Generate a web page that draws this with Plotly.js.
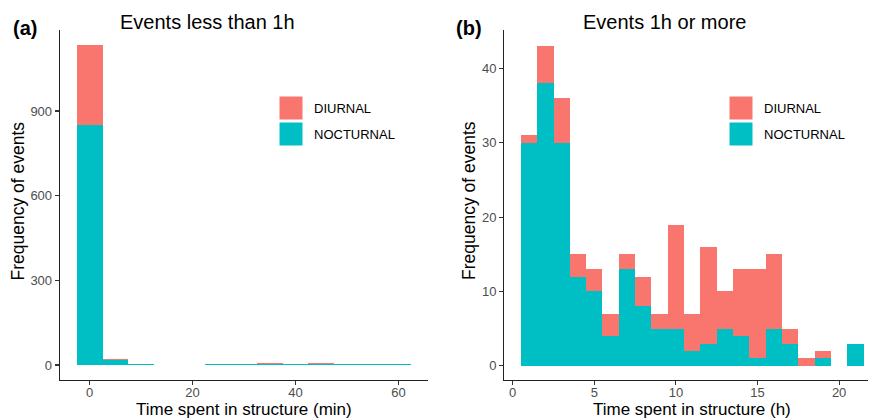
<!DOCTYPE html>
<html>
<head>
<meta charset="utf-8">
<script src="https://cdn.plot.ly/plotly-3.0.1.min.js"></script>
<style>html,body{margin:0;padding:0;background:#fff;}#chart{width:869px;height:420px;}</style>
</head>
<body>
<div id="chart"></div>
<script>
// Panel (a): events less than 1h, bins of 5 min
const minutesBins = [0, 5, 10, 15, 20, 25, 30, 35, 40, 45, 50, 55, 60];
const minutesNocturnal = [850, 17, 3, 1, 1, 2, 3, 5, 3, 4, 5, 2, 2];
const minutesDiurnal   = [285, 5, 2, 0, 0, 0, 2, 1, 1, 4, 0, 0, 0];

// Panel (b): events 1h or more, bins of 1 h
const hoursBins = [1, 2, 3, 4, 5, 6, 7, 8, 9, 10, 11, 12, 13, 14, 15, 16, 17, 18, 19, 20, 21];
const hoursNocturnal = [30, 38, 30, 12, 10, 4, 13, 8, 5, 5, 2, 3, 5, 4, 1, 5, 3, 0, 1, 0, 3];
const hoursDiurnal   = [1, 5, 6, 3, 3, 3, 2, 4, 2, 14, 5, 13, 5, 9, 12, 10, 2, 1, 1, 0, 0];

const panelTitles = ["Events less than 1h", "Events 1h or more"];
const panelTags = ["(a)", "(b)"];
const xTitles = ["Time spent in structure (min)", "Time spent in structure (h)"];
const yTitle = "Frequency of events";
const groupNames = ["DIURNAL", "NOCTURNAL"];

const RED = "#F8766D", TEAL = "#00BFC4";
const FONT = "Liberation Sans, Arial, sans-serif";

const traces = [
  {type: "bar", x: minutesBins, y: minutesNocturnal, width: 5, name: groupNames[1],
   marker: {color: TEAL, line: {width: 0}}, xaxis: "x", yaxis: "y", showlegend: false},
  {type: "bar", x: minutesBins, y: minutesDiurnal, width: 5, name: groupNames[0],
   marker: {color: RED, line: {width: 0}}, xaxis: "x", yaxis: "y", showlegend: false},
  {type: "bar", x: hoursBins, y: hoursNocturnal, width: 1, name: groupNames[1],
   marker: {color: TEAL, line: {width: 0}}, xaxis: "x2", yaxis: "y2", showlegend: false},
  {type: "bar", x: hoursBins, y: hoursDiurnal, width: 1, name: groupNames[0],
   marker: {color: RED, line: {width: 0}}, xaxis: "x2", yaxis: "y2", showlegend: false}
];

const axisCommon = {
  showgrid: false, zeroline: false, showline: true, linecolor: "#222", linewidth: 1.3,
  ticks: "outside", ticklen: 4, tickcolor: "#333", tickwidth: 1.1,
  tickfont: {family: FONT, size: 13, color: "#4D4D4D"}
};

const W = 869, H = 420, ML = 60, MR = 1, MT = 30, MB = 40;
const PW = W - ML - MR, PH = H - MT - MB;
function px(x) { return (x - ML) / PW; }
function py(y) { return 1 - (y - MT) / PH; }

const layout = {
  width: W, height: H,
  margin: {l: ML, r: MR, t: MT, b: MB},
  paper_bgcolor: "#fff", plot_bgcolor: "#fff",
  barmode: "stack", bargap: 0,
  font: {family: FONT},
  xaxis: Object.assign({}, axisCommon, {
    domain: [0, px(428)], range: [-5.77, 65.75], tickvals: [0, 20, 40, 60], anchor: "y",
    ticklabelstandoff: -4
  }),
  yaxis: Object.assign({}, axisCommon, {
    domain: [0, 1], range: [-53, 1187], tickvals: [0, 300, 600, 900], anchor: "x"
  }),
  xaxis2: Object.assign({}, axisCommon, {
    domain: [px(504.3), 1], range: [-0.515, 21.77], tickvals: [0, 5, 10, 15, 20], anchor: "y2",
    ticklabelstandoff: -4
  }),
  yaxis2: Object.assign({}, axisCommon, {
    domain: [0, 1], range: [-1.9, 45.15], tickvals: [0, 10, 20, 30, 40], anchor: "x2"
  }),
  annotations: [],
  shapes: []
};

// titles, tags and axis titles
const titleX = [207.5, 664];
const tagX = [25, 469];
const xTitleX = [244, 692];
const yTitleX = [17.5, 469];
for (let i = 0; i < 2; i++) {
  layout.annotations.push({
    text: panelTitles[i], xref: "paper", yref: "paper",
    x: px(titleX[i]), y: py(22), xanchor: "center", yanchor: "middle",
    showarrow: false, font: {family: FONT, size: 20, color: "#000"}
  });
  layout.annotations.push({
    text: "<b>" + panelTags[i] + "</b>", xref: "paper", yref: "paper",
    x: px(tagX[i]), y: py(28), xanchor: "center", yanchor: "middle",
    showarrow: false, font: {family: FONT, size: 20, color: "#000"}
  });
  layout.annotations.push({
    text: xTitles[i], xref: "paper", yref: "paper",
    x: px(xTitleX[i]), y: py(409.5), xanchor: "center", yanchor: "middle",
    showarrow: false, font: {family: FONT, size: 17, color: "#000"}
  });
  layout.annotations.push({
    text: yTitle, xref: "paper", yref: "paper", textangle: -90,
    x: px(yTitleX[i]), y: py(201), xanchor: "center", yanchor: "middle",
    showarrow: false, font: {family: FONT, size: 17.5, color: "#000"}
  });
}

// manual legends (ggplot style large keys)
const legendKeyX = [279, 729];
const legendKeyY = [96, 122];
const legendColors = [RED, TEAL];
for (let p = 0; p < 2; p++) {
  for (let k = 0; k < 2; k++) {
    layout.shapes.push({
      type: "rect", xref: "paper", yref: "paper",
      x0: px(legendKeyX[p]), x1: px(legendKeyX[p] + 24),
      y0: py(legendKeyY[k] + 24), y1: py(legendKeyY[k]),
      fillcolor: legendColors[k], line: {width: 1, color: "#fff"}
    });
    layout.annotations.push({
      text: groupNames[k], xref: "paper", yref: "paper",
      x: px(legendKeyX[p] + 33), y: py(legendKeyY[k] + 12), xanchor: "left", yanchor: "middle",
      showarrow: false, font: {family: FONT, size: 13, color: "#000"}
    });
  }
}

Plotly.newPlot("chart", traces, layout, {staticPlot: true, displayModeBar: false});
</script>
</body>
</html>
